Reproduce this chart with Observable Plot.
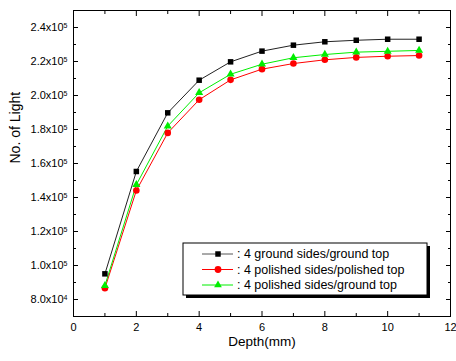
<!DOCTYPE html>
<html>
<head>
<meta charset="utf-8">
<script src="https://cdn.jsdelivr.net/npm/d3@7"></script>
<script src="https://cdn.jsdelivr.net/npm/@observablehq/plot@0.6"></script>
<style>
  html, body { margin: 0; padding: 0; background: white; }
  #chart svg { display: block; }
</style>
</head>
<body>
<div id="chart"></div>
<script>
// ---- data ----
const depth = [1, 2, 3, 4, 5, 6, 7, 8, 9, 10, 11];
const groundSidesGroundTop = [95100, 155300, 189800, 209000, 219800, 226100, 229600, 231600, 232500, 233100, 233100];
const polishedSidesPolishedTop = [86600, 144100, 178000, 197500, 209200, 215500, 218800, 221000, 222400, 223100, 223500];
const polishedSidesGroundTop = [88200, 147500, 182000, 201600, 212500, 218400, 222200, 224100, 225500, 226000, 226500];
const seriesNames = [": 4 ground sides/ground top", ": 4 polished sides/polished top", ": 4 polished sides/ground top"];
const seriesColors = ["#000000", "#ff0000", "#00ee00"];
const seriesSymbols = ["square", "circle", "triangle"];
const xTickLabels = [0, 2, 4, 6, 8, 10, 12];
const xTicksAll = [0, 1, 2, 3, 4, 5, 6, 7, 8, 9, 10, 11, 12];
const yTickLabels = [80000, 100000, 120000, 140000, 160000, 180000, 200000, 220000, 240000];
const yTicksMinor = [70000, 90000, 110000, 130000, 150000, 170000, 190000, 210000, 230000, 250000];
const xTitle = "Depth(mm)";
const yTitle = "No. of Light";

const seriesValues = [groundSidesGroundTop, polishedSidesPolishedTop, polishedSidesGroundTop];
const rows = [];
seriesValues.forEach((vals, s) => vals.forEach((v, i) => rows.push({series: s, x: depth[i], y: v})));
const bySeries = s => rows.filter(r => r.series === s);

const xMajor = xTicksAll.filter(d => d % 2 === 0);
const xMinor = xTicksAll.filter(d => d % 2 === 1);
const fmtEmpty = () => "";

const marks = [
  Plot.frame({stroke: "black", strokeWidth: 1}),
  // inward ticks
  Plot.axisX({ticks: xMajor, tickSize: -5, tickFormat: fmtEmpty, label: null}),
  Plot.axisX({ticks: xMinor, tickSize: -3, tickFormat: fmtEmpty, label: null}),
  Plot.axisX({anchor: "top", ticks: xMajor, tickSize: -5, tickFormat: fmtEmpty, label: null}),
  Plot.axisX({anchor: "top", ticks: xMinor, tickSize: -3, tickFormat: fmtEmpty, label: null}),
  Plot.axisY({ticks: yTickLabels, tickSize: -5, tickFormat: fmtEmpty, label: null}),
  Plot.axisY({ticks: yTicksMinor, tickSize: -3, tickFormat: fmtEmpty, label: null}),
  Plot.axisY({anchor: "right", ticks: yTickLabels, tickSize: -5, tickFormat: fmtEmpty, label: null}),
  Plot.axisY({anchor: "right", ticks: yTicksMinor, tickSize: -3, tickFormat: fmtEmpty, label: null}),
  // labels
  Plot.axisX({ticks: xTickLabels, tickSize: 0, tickPadding: 7, label: null, fontSize: 11}),
  Plot.axisY({ticks: yTickLabels, tickSize: 0, tickPadding: 6, label: null, fontSize: 11,
    tickFormat: d => { const e = Math.floor(Math.log10(d)); return (d / Math.pow(10, e)).toFixed(1) + "x10^" + e; }}),
  Plot.text([xTitle], {frameAnchor: "bottom", dy: 29, fontSize: 13.5}),
  Plot.text([yTitle], {frameAnchor: "left", dx: -58, rotate: -90, fontSize: 14})
];
[0, 1, 2].forEach(s => {
  marks.push(Plot.line(bySeries(s), {x: "x", y: "y", stroke: s === 0 ? "#222" : seriesColors[s], strokeWidth: 1}));
});
[0, 1, 2].forEach(s => {
  marks.push(Plot.dot(bySeries(s), {x: "x", y: "y", fill: seriesColors[s], stroke: "none",
    symbol: seriesSymbols[s], r: s === 0 ? 3.1 : s === 1 ? 3.3 : 3.0}));
});

const chart = Plot.plot({
  width: 456, height: 361,
  marginLeft: 73, marginRight: 6, marginTop: 10, marginBottom: 45,
  style: {fontFamily: "'Liberation Sans', Arial, sans-serif", fontSize: "11px", background: "white", color: "black"},
  x: {domain: [0, 12]},
  y: {domain: [70000, 250000]},
  marks
});
document.getElementById("chart").appendChild(chart);

// superscripts for y tick labels
const svg = d3.select(chart);
svg.selectAll("text").each(function() {
  const t = d3.select(this);
  const s = this.textContent;
  if (/x10\^\d$/.test(s) && this.childNodes.length === 1) {
    const [base, exp] = s.split("^");
    t.text(null);
    t.append("tspan").text(base);
    t.append("tspan").attr("dy", "-0.45em").attr("font-size", "7px").text(exp);
  }
});

// legend
const lx = 183, ly = 243, lw = 244, lh = 52;
const lg = svg.append("g").attr("font-size", 12.5).attr("text-anchor", "start");
lg.append("rect").attr("x", lx + 3).attr("y", ly + 3).attr("width", lw).attr("height", lh).attr("fill", "black");
lg.append("rect").attr("x", lx).attr("y", ly).attr("width", lw).attr("height", lh).attr("fill", "white").attr("stroke", "black");
const symMap = {square: d3.symbolSquare, circle: d3.symbolCircle, triangle: d3.symbolTriangle};
const symSize = [30, 36, 26];
seriesNames.forEach((name, i) => {
  const yy = ly + 11 + i * 15.5;
  lg.append("line").attr("x1", lx + 19).attr("x2", lx + 50).attr("y1", yy).attr("y2", yy)
    .attr("stroke", i === 0 ? "#555" : seriesColors[i]).attr("stroke-width", 1);
  lg.append("path").attr("d", d3.symbol(symMap[seriesSymbols[i]], symSize[i])())
    .attr("transform", `translate(${lx + 35},${yy})`).attr("fill", seriesColors[i]);
  lg.append("text").attr("x", lx + 54).attr("y", yy).attr("dy", "0.35em").attr("text-anchor", "start").text(name);
});
</script>
</body>
</html>
